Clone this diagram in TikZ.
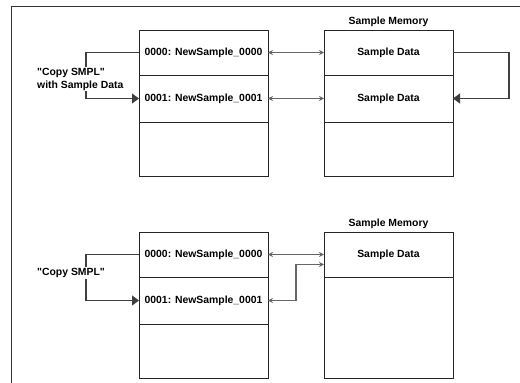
\documentclass[tikz,border=0pt]{standalone}
\usepackage{fontspec}
\setmainfont{Liberation Sans}
\usetikzlibrary{arrows.meta,positioning}

\tikzset{
  row/.style={draw=black!85,line width=.9pt,minimum width=129pt,outer sep=0pt,inner sep=0pt,
    font=\fontsize{10.4}{13}\selectfont\bfseries},
  link/.style={draw=black!60,line width=1.1pt,{Stealth[length=5pt,width=5pt]}-{Stealth[length=5pt,width=5pt]}},
  copyarrow/.style={draw=black!75,line width=1.1pt,-{Triangle[length=7pt,width=10pt]}},
  lbl/.style={font=\fontsize{10.4}{13}\selectfont\bfseries}
}

\begin{document}
\begin{tikzpicture}[x=1pt,y=-1pt]
\useasboundingbox (0,0) rectangle (520,383);
\draw[line width=1pt,black!80] (520,6) -- (11,6) -- (11,383);
% upper part: copy with sample data
\node[row,minimum height=45pt,anchor=north west] (L1) at (139,30) {0000: NewSample\_0000};
\node[row,minimum height=47pt,below=0pt of L1] (L2) {0001: NewSample\_0001};
\node[row,minimum height=54pt,below=0pt of L2] (L3) {};
\node[row,minimum height=45pt,anchor=north west] (R1) at (324,30) {Sample Data};
\node[row,minimum height=47pt,below=0pt of R1] (R2) {Sample Data};
\node[row,minimum height=54pt,below=0pt of R2] (R3) {};
\node[lbl,above=0pt of R1] (mem1) {Sample Memory};
\draw[link] (L1.east) -- (R1.west);
\draw[link] (L2.east) -- (R2.west);
\draw[copyarrow] (R1.east) -- ++(56,0) |- (R2.east);
\draw[copyarrow] (L1.west) -- ++(-53,0) |- (L2.west);
\node[lbl,fill=white,align=left,anchor=west,inner sep=1pt] (copy1) at (36,79) {\textquotedbl Copy SMPL\textquotedbl\\with Sample Data};
% lower part: copy only
\node[row,minimum height=45pt,anchor=north west] (L1b) at (139,232) {0000: NewSample\_0000};
\node[row,minimum height=47pt,below=0pt of L1b] (L2b) {0001: NewSample\_0001};
\node[row,minimum height=54pt,below=0pt of L2b] (L3b) {};
\node[row,minimum height=45pt,anchor=north west] (R1b) at (324,232) {Sample Data};
\node[row,minimum height=101pt,below=0pt of R1b] (R2b) {};
\node[lbl,above=0pt of R1b] (mem2) {Sample Memory};
\draw[link] (L1b.east) -- (R1b.west);
\draw[link] (L2b.east) -- ++(28,0) |- ([yshift=-10pt]R1b.west);
\draw[copyarrow] (L1b.west) -- ++(-53,0) |- (L2b.west);
\node[lbl,fill=white,anchor=west,inner sep=1pt] (copy2) at (36,273) {\textquotedbl Copy SMPL\textquotedbl};
\end{tikzpicture}
\end{document}
